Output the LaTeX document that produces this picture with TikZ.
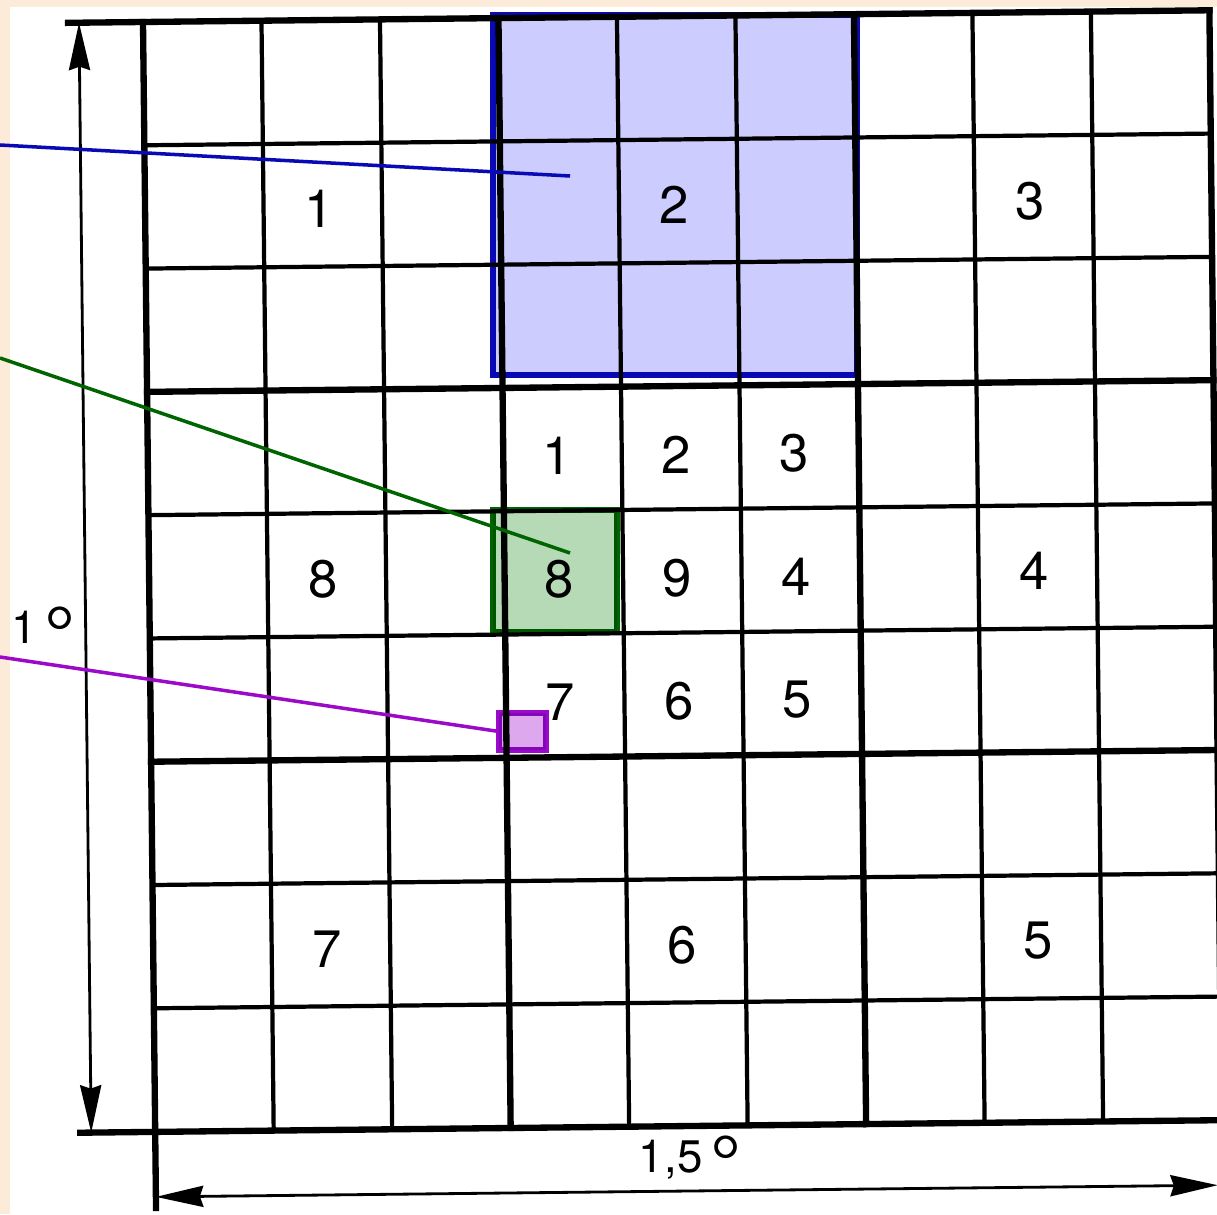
\documentclass[tikz,border=0pt]{standalone}
\usepackage{fontspec}
\setmainfont{TeX Gyre Heros}
\usetikzlibrary{arrows.meta}

\definecolor{peach}{HTML}{FDEBDA}
\definecolor{bluebox}{HTML}{0A0AB4}
\definecolor{bluefill}{HTML}{CCCCFF}
\definecolor{greenbox}{HTML}{006400}
\definecolor{greenfill}{HTML}{B5DAB5}
\definecolor{violetbox}{HTML}{9A0AC8}
\definecolor{violetfill}{HTML}{DDA8EE}

\newcommand{\bigdeg}{\raisebox{-0.4em}{\scalebox{1.7}{°}}}

\begin{document}
\begin{tikzpicture}[x=0.02cm, y=-0.02cm,
    thinline/.style={line width=2.4pt, line cap=rect},
    thickline/.style={line width=3.6pt, line cap=rect},
    dimline/.style={line width=1.6pt, {Stealth[length=27pt, width=12pt, inset=2pt]}-{Stealth[length=27pt, width=12pt, inset=2pt]}},
    num/.style={font=\fontsize{30}{30}\selectfont},
    dimlabel/.style={font=\fontsize{26}{26}\selectfont},
    marked/.style={line width=3.2pt, blend mode=multiply, inner sep=0pt, outer sep=0pt},
    pointer/.style={line width=2pt}]
    \useasboundingbox (0,0) rectangle (1217,1214);
    \fill[peach] (0,0) rectangle (1217,1214);
    \fill[white] (10,7) rectangle (1217,1214);

    % scanned grid, slightly turned
    \begin{scope}[shift={(143,22)}, rotate=0.63]
        \foreach \i in {1,2,4,5,7,8} {
            \draw[thinline] (\i*118.5,0) -- (\i*118.5,1110);
            \draw[thinline] (0,\i*123.3) -- (1066.5,\i*123.3);
        }
        \foreach \i in {3,6,9} \draw[thickline] (\i*118.5,0) -- (\i*118.5,1110);
        \foreach \i in {3,6} \draw[thickline] (0,\i*123.3) -- (1066.5,\i*123.3);
        \draw[thickline] (-75,0) -- (1066.5,0);
        \draw[thickline] (-75,1110) -- (1066.5,1110);
        \draw[thickline] (0,0) -- (0,1186);

        % dimensions
        \coordinate (vtop) at (-64,0); \coordinate (vbot) at (-64,1110);
        \coordinate (hleft) at (0,1175); \coordinate (hright) at (1062,1175);
        \draw[dimline] (vtop) -- (vbot);
        \draw[dimline] (hleft) -- (hright);

        % block numbers
        \foreach \c/\r/\t in {1/1/1, 4/1/2, 7/1/3, 7/4/4, 7/7/5, 4/7/6, 1/7/7, 1/4/8}
            \node[num] (big\t) at ({(\c+0.5)*118.5-4}, {(\r+0.5)*123.3+4}) {\t};
        \foreach \c/\r/\t in {3/3/1, 4/3/2, 5/3/3, 5/4/4, 5/5/5, 4/5/6, 3/5/7, 3/4/8, 4/4/9}
            \node[num] (small\t) at ({(\c+0.5)*118.5-5}, {(\r+0.5)*123.3+7}) {\t};
    \end{scope}

    \node[dimlabel] (deglat) at (44,634) {1\,\bigdeg};
    \node[dimlabel] (deglon) at (690,1163) {1,5\,\bigdeg};

    % highlighted areas
    \node[marked, draw=bluebox, fill=bluefill, minimum width=7.28cm, minimum height=7.2cm] (block) at (675,195) {};
    \node[marked, draw=greenbox, fill=greenfill, minimum width=2.48cm, minimum height=2.44cm] (cell) at (555,571) {};
    \node[marked, draw=violetbox, fill=violetfill, minimum width=0.94cm, minimum height=0.74cm] (sq) at (522.5,731.5) {};

    \coordinate (blockfrom) at (0,145); \coordinate (blockin) at (570,176);
    \coordinate (cellfrom) at (0,358); \coordinate (cellin) at (570,553);
    \coordinate (sqfrom) at (0,657);
    \draw[pointer, bluebox] (blockfrom) -- (blockin);
    \draw[pointer, greenbox] (cellfrom) -- (cellin);
    \draw[pointer, violetbox] (sqfrom) -- (sq.west);
\end{tikzpicture}
\end{document}
